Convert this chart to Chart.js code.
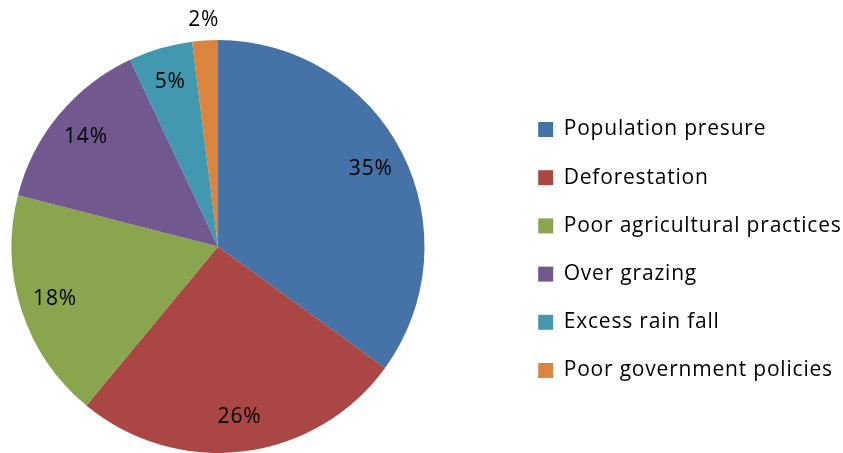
<!DOCTYPE html>
<html>
<head>
<meta charset="utf-8">
<script src="https://cdn.jsdelivr.net/npm/chart.js@4"></script>
<style>
  html, body { margin: 0; padding: 0; background: #fff; }
  #wrap { width: 843px; height: 453px; }
</style>
</head>
<body>
<div id="wrap"><canvas id="myPieChart"></canvas></div>
<script>
const causes = ['Population presure', 'Deforestation', 'Poor agricultural practices',
  'Over grazing', 'Excess rain fall', 'Poor government policies'];
const shares = [35, 26, 18, 14, 5, 2];
const sliceColors = ['#4572A7', '#AA4643', '#89A54E', '#71588F', '#4198AF', '#DB843D'];

// slightly looser text, like the original office rendering
const looseText = {
  id: 'looseText',
  beforeUpdate(chart) { chart.ctx.letterSpacing = '0.8px'; },
  beforeDraw(chart) { chart.ctx.letterSpacing = '0.8px'; }
};

// keep the pie on the left part, leaving a gap before the legend
const pieArea = {
  id: 'pieArea',
  afterLayout(chart) {
    const a = chart.chartArea;
    a.top = 40;
    a.right = 436;
    a.width = a.right - a.left;
    a.height = a.bottom - a.top;
  }
};

// draws the "35%" style labels on each slice
const pctLabels = {
  id: 'pctLabels',
  afterDatasetsDraw(chart) {
    const ctx = chart.ctx;
    const meta = chart.getDatasetMeta(0);
    ctx.save();
    ctx.font = '21px "Open Sans"';
    ctx.fillStyle = '#000';
    ctx.textAlign = 'center';
    ctx.textBaseline = 'middle';
    meta.data.forEach((arc, i) => {
      const p = arc.getProps(['x', 'y', 'startAngle', 'endAngle', 'outerRadius'], true);
      const mid = (p.startAngle + p.endAngle) / 2;
      const r = shares[i] < 3 ? p.outerRadius * 1.1 : p.outerRadius * 0.83;
      ctx.fillText(shares[i] + '%', p.x + Math.cos(mid) * r, p.y + Math.sin(mid) * r);
    });
    ctx.restore();
  }
};

const pieData = {
  labels: causes,
  datasets: [{
    data: shares,
    backgroundColor: sliceColors,
    borderWidth: 0
  }]
};

const pieConfig = {
  type: 'pie',
  data: pieData,
  options: {
    responsive: true,
    maintainAspectRatio: false,
    animation: false,
    layout: { padding: { left: 0, right: 0, top: 47, bottom: 0 } },
    plugins: {
      tooltip: { enabled: false },
      legend: {
        position: 'right',
        maxWidth: 332,
        labels: {
          boxWidth: 15,
          boxHeight: 15,
          padding: 27.2,
          color: '#000',
          font: { family: 'Open Sans', size: 21 }
        }
      }
    }
  },
  plugins: [looseText, pieArea, pctLabels]
};

const myPieChart = new Chart(document.getElementById('myPieChart'), pieConfig);
</script>
</body>
</html>
